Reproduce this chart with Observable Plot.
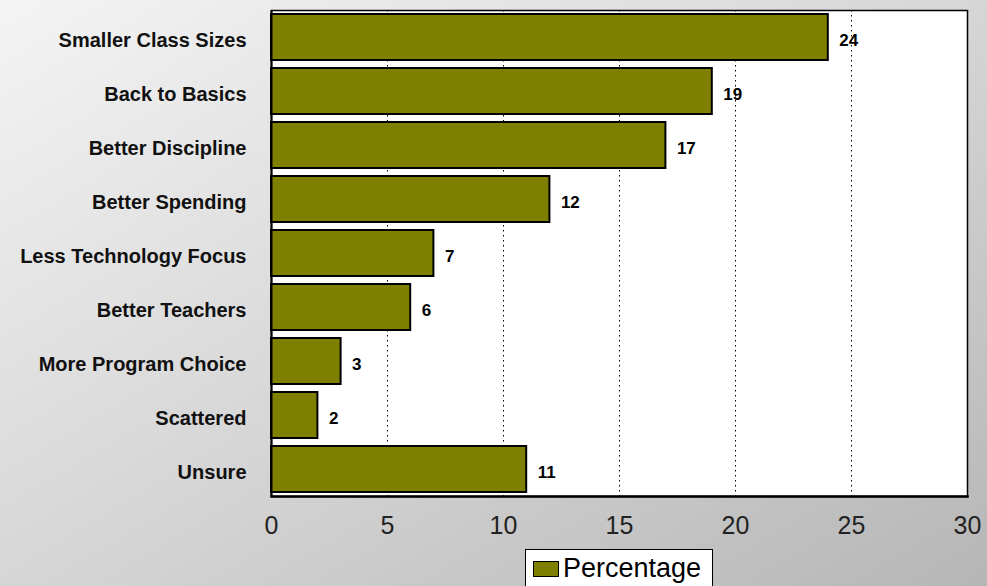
<!DOCTYPE html>
<html>
<head>
<meta charset="utf-8">
<script src="https://cdn.jsdelivr.net/npm/d3@7"></script>
<script src="https://cdn.jsdelivr.net/npm/@observablehq/plot@0.6"></script>
<style>
  html, body { margin: 0; padding: 0; }
  body {
    width: 987px; height: 586px; overflow: hidden; position: relative;
    background: linear-gradient(to bottom right, #f4f4f4 0%, #d6d6d6 50%, #b6b6b6 100%);
    font-family: "Liberation Sans", Arial, sans-serif;
  }
  #chart { position: absolute; left: 0; top: 0; }
  #legend {
    position: absolute; left: 525px; top: 549px; width: 188px; height: 50px;
    background: #fff; border: 1px solid #000; box-sizing: border-box;
  }
  #legend .sw {
    position: absolute; left: 7px; top: 11px; width: 24px; height: 14px;
    background: #808000; border: 1px solid #000;
  }
  #legend .lb {
    position: absolute; left: 37px; top: 2px; font-size: 27px; color: #000; line-height: 32px;
  }
</style>
</head>
<body>
<div id="chart"></div>
<div id="legend"><div class="sw"></div><div class="lb"></div></div>
<script>
const categories = ["Smaller Class Sizes", "Back to Basics", "Better Discipline", "Better Spending",
  "Less Technology Focus", "Better Teachers", "More Program Choice", "Scattered", "Unsure"];
const values = [24, 19, 17, 12, 7, 6, 3, 2, 11];
const xTicks = [0, 5, 10, 15, 20, 25, 30];
const gridTicks = [5, 10, 15, 20, 25];
const seriesName = "Percentage";

const data = categories.map((c, i) => ({category: c, value: values[i]}));

const chart = Plot.plot({
  width: 987,
  height: 540,
  marginLeft: 271,
  marginRight: 20,
  marginTop: 10,
  marginBottom: 44,
  style: {background: "transparent", fontFamily: "'Liberation Sans', Arial, sans-serif", color: "#000"},
  x: {domain: [0, 30], ticks: xTicks},
  y: {domain: categories, paddingInner: 0.15, paddingOuter: 0.05},
  marks: [
    Plot.frame({fill: "#fff", stroke: "#000", strokeWidth: 1.5}),
    Plot.ruleX(gridTicks, {stroke: "#000", strokeDasharray: "1.5,3.5", strokeWidth: 1}),
    Plot.barX(data, {x: "value", y: "category", fill: "#808000", stroke: "#000", strokeWidth: 2}),
    Plot.text(data, {x: "value", y: "category", text: d => String(d.value), textAnchor: "start",
      dx: 11, dy: 3, fontSize: 17, fontWeight: "bold", fill: "#000"}),
    Plot.axisX({ticks: xTicks, tickSize: 0, tickPadding: 20, fontSize: 25, fill: "#222", label: null}),
    Plot.axisY({tickSize: 0, tickPadding: 25, fontSize: 20, fontWeight: "bold", fill: "#111", dy: 3, label: null}),
    Plot.ruleX([0], {stroke: "#000", strokeWidth: 2}),
    Plot.frame({anchor: "bottom", stroke: "#000", strokeWidth: 2.5})
  ]
});
document.getElementById("chart").appendChild(chart);
document.querySelector("#legend .lb").textContent = seriesName;
</script>
</body>
</html>
